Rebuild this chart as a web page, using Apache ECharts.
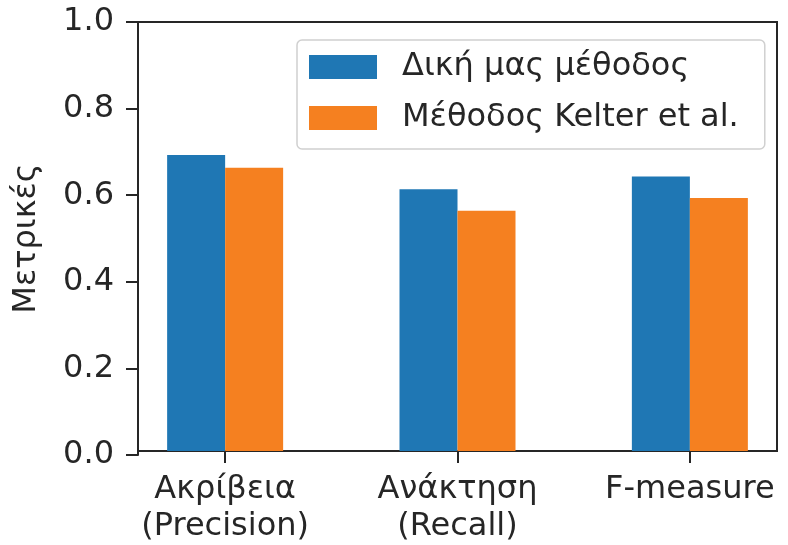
<!DOCTYPE html>
<html>
<head>
<meta charset="utf-8">
<script src="https://cdn.jsdelivr.net/npm/echarts@6/dist/echarts.min.js"></script>
<style>
  html, body { margin: 0; padding: 0; background: #fff; }
  #chart { width: 788px; height: 545px; }
</style>
</head>
<body>
<div id="chart"></div>
<script>
// Metric groups along the x axis (positions 0, 1, 2)
const categories = ['Ακρίβεια\n(Precision)', 'Ανάκτηση\n(Recall)', 'F-measure'];
const seriesNames = ['Δική μας μέθοδος', 'Μέθοδος Kelter et al.'];
const oursValues = [0.69, 0.61, 0.64];
const kelterValues = [0.66, 0.56, 0.59];
const yTicks = [0, 0.2, 0.4, 0.6, 0.8, 1.0];

const FONT = 'DejaVu Sans';
const INK = '#262626';
const FS = 32;
const catPositions = categories.map((_, i) => i);
const plotBox = { left: 138, right: 11, top: 22, bottom: 90 };

const chart = echarts.init(document.getElementById('chart'), null, { renderer: 'canvas' });

chart.setOption({
  animation: false,
  backgroundColor: '#ffffff',
  textStyle: { fontFamily: FONT, color: INK },
  grid: [
    // bars + framed plot area
    Object.assign({ show: true, borderColor: INK, borderWidth: 2, backgroundColor: 'transparent' }, plotBox),
    // same area, carries the y scale (ticks, labels, title)
    Object.assign({ show: false }, plotBox)
  ],
  legend: {
    orient: 'vertical',
    left: 297, top: 40,
    padding: [11, 26, 15, 12],
    itemWidth: 68, itemHeight: 24, itemGap: 19,
    icon: 'rect',
    backgroundColor: '#ffffff',
    borderColor: '#d0d0d0', borderWidth: 1.5, borderRadius: 5,
    textStyle: { fontFamily: FONT, fontSize: FS, color: INK, padding: [0, 0, 0, 20] },
    data: seriesNames
  },
  xAxis: [
    {
      gridIndex: 0,
      type: 'value',
      min: -0.375, max: 2.375,
      splitLine: { show: false },
      axisLine: { show: true, onZero: false, lineStyle: { color: INK, width: 2 } },
      axisTick: {
        show: true, length: 12, inside: false,
        lineStyle: { color: INK, width: 2 },
        customValues: catPositions
      },
      axisLabel: {
        show: true, margin: 20,
        fontFamily: FONT, fontSize: FS, color: INK, lineHeight: 37,
        customValues: catPositions,
        formatter: v => categories[Math.round(v)]
      }
    },
    {
      gridIndex: 1,
      type: 'category',
      data: categories,
      show: false
    }
  ],
  yAxis: [
    {
      gridIndex: 0,
      type: 'value',
      min: yTicks[0], max: yTicks[yTicks.length - 1],
      show: false,
      splitLine: { show: false }
    },
    {
      gridIndex: 1,
      type: 'value',
      min: yTicks[0], max: yTicks[yTicks.length - 1], interval: 0.2,
      name: 'Μετρικές',
      nameLocation: 'middle',
      nameGap: 95,
      nameRotate: 90,
      nameTextStyle: { fontFamily: FONT, fontSize: FS, color: INK },
      splitLine: { show: false },
      axisLine: { show: true, lineStyle: { color: INK, width: 2 } },
      axisTick: { show: true, length: 12, lineStyle: { color: INK, width: 2 } },
      axisLabel: {
        margin: 24, fontFamily: FONT, fontSize: FS, color: INK,
        formatter: v => v.toFixed(1)
      }
    }
  ],
  series: [
    {
      name: seriesNames[0], type: 'bar',
      xAxisIndex: 0, yAxisIndex: 0,
      barWidth: 58, barGap: '0%',
      itemStyle: { color: '#1f77b4' },
      data: catPositions.map((x, i) => [x, oursValues[i]])
    },
    {
      name: seriesNames[1], type: 'bar',
      xAxisIndex: 0, yAxisIndex: 0,
      barWidth: 58, barGap: '0%',
      itemStyle: { color: '#f58020' },
      data: catPositions.map((x, i) => [x, kelterValues[i]])
    }
  ]
});
</script>
</body>
</html>
